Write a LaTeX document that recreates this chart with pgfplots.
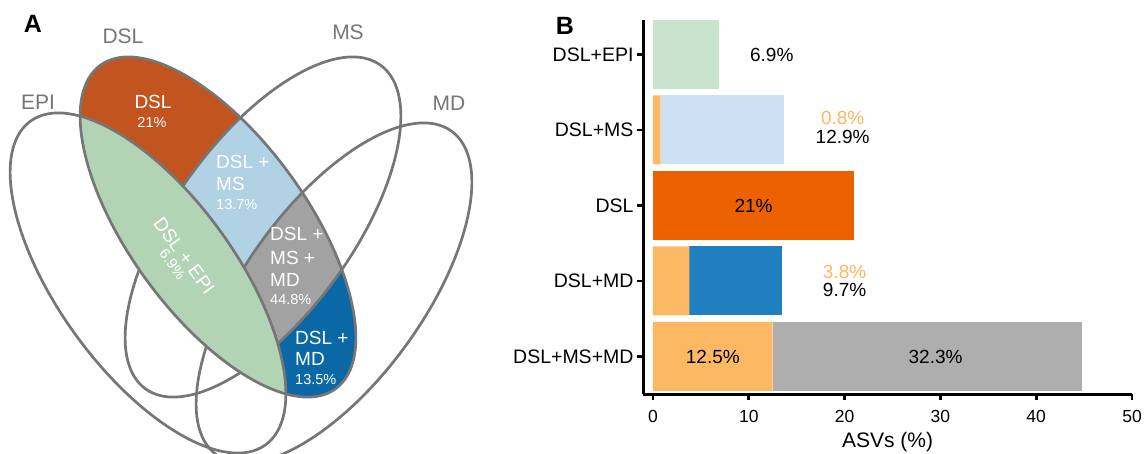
\documentclass[border=0pt]{standalone}
\usepackage{pgfplots}
\pgfplotsset{compat=1.18}
\usepackage{fontspec}
\setmainfont{Liberation Sans}
\definecolor{vOrange}{HTML}{C1541F}
\definecolor{vGreen}{HTML}{B3D3B5}
\definecolor{vLBlue}{HTML}{B1D1E4}
\definecolor{vGrey}{HTML}{A2A2A2}
\definecolor{vBlue}{HTML}{0A68A6}
\definecolor{vLine}{HTML}{767676}
\definecolor{bOrangeL}{HTML}{FDB863}
\definecolor{bGreen}{HTML}{C9E4CC}
\definecolor{bLBlue}{HTML}{CDE1F4}
\definecolor{bOrange}{HTML}{EC6100}
\definecolor{bBlue}{HTML}{1F7FBF}
\definecolor{bGrey}{HTML}{AEAEAE}
\newcommand{\fs}[1]{\fontsize{#1}{#1}\selectfont}
% ellipse paths (panel A), coordinates in px, y up
\newcommand{\ellEPI}{[shift={(axis cs:148,170)},rotate=-54] (axis cs:0,0) ellipse [x radius=200pt, y radius=89pt]}
\newcommand{\ellDSL}{[shift={(axis cs:218,226)},rotate=-54] (axis cs:0,0) ellipse [x radius=200pt, y radius=89pt]}
\newcommand{\ellMS}{[shift={(axis cs:263,226)},rotate=54] (axis cs:0,0) ellipse [x radius=200pt, y radius=89pt]}
\newcommand{\ellMD}{[shift={(axis cs:334,160)},rotate=54] (axis cs:0,0) ellipse [x radius=200pt, y radius=89pt]}

\pgfplotstableread{
y   base  epi   ms    dsl   md   msmd
0   12.5  0     0     0     0    32.3
1   3.8   0     0     0     9.7  0
2   0     0     0     21    0    0
3   0.8   0     12.9  0     0    0
4   0     6.9   0     0     0    0
}\bars

\pgfplotsset{
  panelB/.style={
    at={(643pt,59pt)}, anchor=south west,
    width=489pt, height=374pt, scale only axis,
    xmin=-1.04, xmax=50, ymin=-0.497, ymax=4.457,
    clip=false,
  }
}

\begin{document}
\begin{tikzpicture}
\useasboundingbox (0pt,0pt) rectangle (1145pt,453pt);
% ---------------- Panel A ----------------
\begin{axis}[
  at={(0pt,0pt)}, anchor=south west,
  width=480pt, height=453pt, scale only axis,
  xmin=0, xmax=480, ymin=0, ymax=453,
  hide axis, clip=false,
]
\pgfplotsextra{
  \draw[vLine, line width=2.7pt] \ellEPI;
  \draw[vLine, line width=2.7pt] \ellMS;
  \draw[vLine, line width=2.7pt] \ellMD;
  \begin{scope}
    \clip \ellDSL;
    \fill[vOrange] (axis cs:0,0) rectangle (axis cs:480,453);
    \fill[vBlue] \ellMD;
    \fill[vLBlue] \ellMS;
    \begin{scope}
      \clip \ellMS;
      \fill[vGrey] \ellMD;
    \end{scope}
    \draw[vLine, line width=2.7pt] \ellMS;
    \draw[vLine, line width=2.7pt] \ellMD;
    \fill[vGreen] \ellEPI;
    \draw[vLine, line width=2.7pt] \ellEPI;
  \end{scope}
  \draw[vLine, line width=2.7pt] \ellDSL;
}
\node[font=\fs{25}\bfseries] at (axis cs:33,429) {A};
\node[font=\fs{21}, text=vLine] at (axis cs:123,417) {DSL};
\node[font=\fs{21}, text=vLine] at (axis cs:348,421) {MS};
\node[font=\fs{21}, text=vLine] at (axis cs:38,351) {EPI};
\node[font=\fs{21}, text=vLine] at (axis cs:449,350) {MD};
\node[font=\fs{19}, text=white] at (axis cs:153,351) {DSL};
\node[font=\fs{14.5}, text=white] at (axis cs:152,331) {21\%};
\node[font=\fs{19}, text=white, anchor=west, inner sep=0pt] at (axis cs:216,291) {DSL +};
\node[font=\fs{19}, text=white, anchor=west, inner sep=0pt] at (axis cs:216,269) {MS};
\node[font=\fs{14.5}, text=white, anchor=west, inner sep=0pt] at (axis cs:216,248) {13.7\%};
\node[font=\fs{19}, text=white, anchor=west, inner sep=0pt] at (axis cs:270,219) {DSL +};
\node[font=\fs{19}, text=white, anchor=west, inner sep=0pt] at (axis cs:270,195) {MS +};
\node[font=\fs{19}, text=white, anchor=west, inner sep=0pt] at (axis cs:270,173) {MD};
\node[font=\fs{14.5}, text=white, anchor=west, inner sep=0pt] at (axis cs:270,153) {44.8\%};
\node[font=\fs{19}, text=white, anchor=west, inner sep=0pt] at (axis cs:295,115) {DSL +};
\node[font=\fs{19}, text=white, anchor=west, inner sep=0pt] at (axis cs:295,94) {MD};
\node[font=\fs{14.5}, text=white, anchor=west, inner sep=0pt] at (axis cs:295,73) {13.5\%};
\node[text=white, rotate=-54, align=center, inner sep=0pt] at (axis cs:179,193.5)
  {{\fs{19}DSL + EPI}\\[1pt]{\fs{14.5}6.9\%}};
\end{axis}
% ---------------- Panel B ----------------
\node[font=\fs{25}\bfseries] at (565pt,427pt) {B};
\begin{axis}[
  panelB,
  xbar stacked, bar width=0.914,
  axis x line*=bottom, axis y line*=left,
  axis line style={line width=3pt, black, -},
  x axis line style={line width=3pt},
  y axis line style={line width=3pt},
  xtick={0,10,20,30,40,50},
  ytick={0,1,2,3,4},
  yticklabels={DSL+MS+MD, DSL+MD, DSL, DSL+MS, DSL+EPI},
  tick align=outside, major tick length=6pt,
  tick style={line width=2.6pt, black},
  major tick style={line width=2.6pt, black},
  xticklabel style={font=\fs{17.5}, yshift=-7pt},
  yticklabel style={font=\fs{19.5}},
  /pgf/number format/assume math mode=true,
  xlabel={ASVs (\%)}, xlabel style={font=\fs{21}, yshift=-2pt},
]
\addplot[draw=none, fill=bOrangeL] table[x=base, y=y] {\bars};
\addplot[draw=none, fill=bGreen] table[x=epi, y=y] {\bars};
\addplot[draw=none, fill=bLBlue] table[x=ms, y=y] {\bars};
\addplot[draw=none, fill=bOrange] table[x=dsl, y=y] {\bars};
\addplot[draw=none, fill=bBlue] table[x=md, y=y] {\bars};
\addplot[draw=none, fill=bGrey] table[x=msmd, y=y] {\bars};
\end{axis}
% value labels, on top of the bars
\begin{axis}[panelB, hide axis]
\node[font=\fs{19}] at (axis cs:12.4,4) {6.9\%};
\node[font=\fs{19}, text=bOrangeL] at (axis cs:19.8,3.159) {0.8\%};
\node[font=\fs{19}] at (axis cs:19.8,2.907) {12.9\%};
\node[font=\fs{19}] at (axis cs:10.5,2) {21\%};
\node[font=\fs{19}, text=bOrangeL] at (axis cs:20.0,1.119) {3.8\%};
\node[font=\fs{19}] at (axis cs:20.0,0.881) {9.7\%};
\node[font=\fs{19}] at (axis cs:6.25,0) {12.5\%};
\node[font=\fs{19}] at (axis cs:29.5,0) {32.3\%};
\end{axis}
\end{tikzpicture}
\end{document}
